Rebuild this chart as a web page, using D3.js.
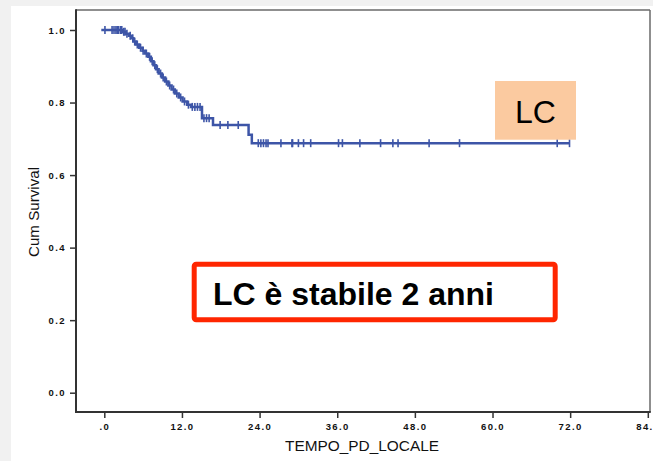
<!DOCTYPE html>
<html><head><meta charset="utf-8">
<script src="https://cdn.jsdelivr.net/npm/d3@7"></script>
<style>
html,body{margin:0;padding:0;background:#f1f1f1;}
svg{display:block;}
text{font-family:"Liberation Sans",Arial,sans-serif;}
</style></head>
<body>
<svg id="c" width="653" height="461"></svg>
<script>
// Kaplan-Meier steps (time in months, survival after event)
const eventTimes = [2.8,3.3,3.8,4.2,4.5,4.9,5.4,5.9,6.3,6.8,7.2,7.6,8.0,8.4,8.9,9.4,9.9,10.4,10.9,11.5,12.1,12.8,13.4,15.1,16.8,22.3,22.8];
const eventSurv  = [0.995,0.990,0.984,0.977,0.968,0.960,0.951,0.943,0.935,0.926,0.914,0.903,0.892,0.880,0.869,0.858,0.847,0.836,0.825,0.814,0.803,0.794,0.788,0.757,0.738,0.711,0.688];
// censored observations (times)
const censorTimes = [0.1,1.2,1.5,1.8,2.0,2.2,2.5,2.7,3.0,3.2,3.5,4.0,4.4,4.7,5.1,5.6,6.0,6.5,7.0,7.4,7.8,8.2,8.7,9.1,9.6,10.1,10.7,11.2,11.8,12.4,13.0,13.6,14.0,14.4,14.8,15.4,15.8,16.2,17.9,19.1,20.7,23.8,24.2,24.6,25.0,25.3,27.3,29.0,29.1,30.0,30.8,31.9,36.2,36.8,39.5,42.7,44.6,45.4,50.2,54.9,70.0,71.9];
const endTime = 71.9;
const xTicks = [0,12,24,36,48,60,72,84];
const yTicks = [0,0.2,0.4,0.6,0.8,1.0];
const xTitle = "TEMPO_PD_LOCALE";
const yTitle = "Cum Survival";
const tagLabel = "LC";
const noteLabel = "LC è stabile 2 anni";

const svg = d3.select("#c");
// page background
svg.append("rect").attr("x",11).attr("y",6).attr("width",653).attr("height",461).attr("fill","#ffffff");

const x = d3.scaleLinear().domain([0,84]).range([104.3,647.8]);
const y = d3.scaleLinear().domain([0,1]).range([392.7,30]);
const L=76, T=10, R=650, B=412;

// frame top/right
svg.append("line").attr("x1",L).attr("x2",R).attr("y1",T).attr("y2",T).attr("stroke","#6a6a6a").attr("stroke-width",1.5);
svg.append("line").attr("x1",R).attr("x2",R).attr("y1",T).attr("y2",B).attr("stroke","#6a6a6a").attr("stroke-width",1.5);

// axes
const yAxis = d3.axisLeft(y).tickValues(yTicks).tickSize(6).tickPadding(4)
  .tickFormat(d=> d.toFixed(1));
const xAxis = d3.axisBottom(x).tickValues(xTicks).tickSize(6).tickPadding(5)
  .tickFormat(d=> d===0 ? ".0" : d.toFixed(1));

const gy = svg.append("g").attr("transform",`translate(${L},0)`).call(yAxis);
const gx = svg.append("g").attr("transform",`translate(0,${B})`).call(xAxis);
[gy,gx].forEach(g=>{
  g.select(".domain").remove();
  g.selectAll(".tick line").attr("stroke","#333").attr("stroke-width",1.5);
  g.selectAll(".tick text").attr("font-size","9.5px").attr("font-weight","bold")
    .attr("fill","#111").style("letter-spacing","1.4px").style("font-family","'Liberation Sans',Arial,sans-serif");
});
svg.append("line").attr("x1",L).attr("x2",L).attr("y1",T-0.75).attr("y2",B+1).attr("stroke","#333").attr("stroke-width",2);
svg.append("line").attr("x1",L).attr("x2",R+0.75).attr("y1",B).attr("y2",B).attr("stroke","#333").attr("stroke-width",2);

// titles
svg.append("text").attr("x",362).attr("y",450.5).attr("text-anchor","middle")
  .attr("font-size","14px").attr("fill","#111").attr("textLength",154).attr("lengthAdjust","spacingAndGlyphs").text(xTitle);
svg.append("text").attr("transform","translate(39,212) rotate(-90)").attr("text-anchor","middle")
  .attr("font-size","14px").attr("fill","#111").attr("textLength",90).attr("lengthAdjust","spacingAndGlyphs").text(yTitle);

// KM curve
const pts = [[0,1]];
let s = 1;
eventTimes.forEach((t,i)=>{ pts.push([t,s]); s = eventSurv[i]; pts.push([t,s]); });
pts.push([endTime,s]);
const line = d3.line().x(d=>x(d[0])).y(d=>y(d[1]));
const blue = "#3d55a7";
svg.append("path").attr("d",line(pts)).attr("fill","none").attr("stroke",blue).attr("stroke-width",2.5);

function survAt(t){ let v=1; eventTimes.forEach((e,i)=>{ if(e<=t) v=eventSurv[i]; }); return v; }
svg.append("g").selectAll("line").data(censorTimes).join("line")
  .attr("x1",d=>x(d)).attr("x2",d=>x(d))
  .attr("y1",d=>y(survAt(d))-4).attr("y2",d=>y(survAt(d))+4)
  .attr("stroke",blue).attr("stroke-width",1.6);
// start mark horizontal cross
svg.append("line").attr("x1",x(0)-3).attr("x2",x(0)).attr("y1",y(1)).attr("y2",y(1)).attr("stroke",blue).attr("stroke-width",2.5);

// LC tag
svg.append("rect").attr("x",495).attr("y",81).attr("width",81).attr("height",58.7).attr("fill","#fbcaa0");
svg.append("text").attr("x",535.5).attr("y",123.3).attr("text-anchor","middle").attr("font-size","32px").attr("fill","#000").text(tagLabel);

// note box
svg.append("rect").attr("x",194.2).attr("y",264.2).attr("width",361).attr("height",55.6).attr("rx",2)
  .attr("fill","#fff").attr("stroke","#ff2600").attr("stroke-width",5);
svg.append("text").attr("x",213).attr("y",305).attr("font-size","32px").attr("font-weight","bold").attr("fill","#000").text(noteLabel);
</script>
</body></html>
